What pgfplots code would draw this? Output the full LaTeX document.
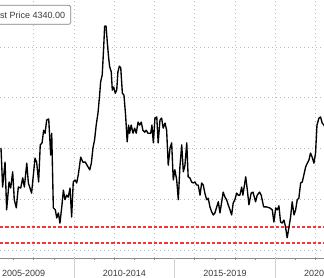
\documentclass[border=0pt]{standalone}
\usepackage{fontspec}
\setmainfont{Liberation Sans}
\usepackage{pgfplots}
\pgfplotsset{compat=1.18}
\definecolor{gridgray}{HTML}{B8B8B8}
\definecolor{axgray}{HTML}{8A8A8A}
\definecolor{sepgray}{HTML}{D0D0D0}
\definecolor{txt}{HTML}{3A3A3A}
\definecolor{refred}{rgb}{0.94,0.22,0.22}
\begin{document}
\begin{tikzpicture}
\useasboundingbox (0pt,0pt) rectangle (324pt,278pt);
\begin{axis}[
  at={(0pt,20pt)}, anchor=south west,
  width=324pt, height=258pt, scale only axis,
  xmin=2006.32, xmax=2022.42, ymin=842, ymax=5925,
  axis x line=bottom, axis y line=left,
  x axis line style={axgray, line width=0.9pt, -},
  y axis line style={draw=none, -},
  xtick={2008,2010,...,2022}, xticklabels={},
  minor xtick={2007,2009,...,2021},
  ytick={1000,2000,3000,4000,5000}, yticklabels={},
  ytick style={draw=none},
  xmajorgrids, ymajorgrids,
  grid style={gridgray, line width=0.8pt, dash pattern=on 0.8pt off 3.2pt},
  tick align=outside, major tick length=2.5pt, minor tick length=2.5pt,
  xtick style={axgray, line width=0.7pt},
  clip=true,
]
\addplot[draw=refred, line width=1.6pt, dash pattern=on 3.3pt off 2pt, mark=none] coordinates {(2006.32,1450) (2022.42,1450)};
\addplot[draw=refred, line width=1.6pt, dash pattern=on 3.3pt off 2pt, mark=none] coordinates {(2006.32,1140) (2022.42,1140)};
\addplot[color=black, line width=1.35pt, line join=round, mark=none] coordinates {
(2006.37,3010) (2006.45,2240) (2006.57,2730) (2006.65,1790) (2006.77,2340)
(2006.85,2220) (2006.95,2540) (2007.03,1990) (2007.13,1830) (2007.23,2240)
(2007.35,2220) (2007.45,2420) (2007.53,2240) (2007.65,2710) (2007.73,2320)
(2007.89,2120) (2008.06,2810) (2008.14,2730) (2008.24,2340) (2008.32,3070)
(2008.41,3110) (2008.49,3360) (2008.56,3300) (2008.64,3560) (2008.74,3580)
(2008.84,2870) (2008.89,3300) (2008.97,1830) (2009.07,1790) (2009.14,1630)
(2009.22,1730) (2009.30,1530) (2009.39,1850) (2009.47,2180) (2009.55,1990)
(2009.63,2080) (2009.71,2040) (2009.80,2220) (2009.88,1650) (2009.96,2340)
(2010.05,2380) (2010.13,2320) (2010.21,2480) (2010.33,2830) (2010.44,2730)
(2010.56,2730) (2010.69,2640) (2010.78,2580) (2010.86,2710) (2010.94,3010)
(2011.02,3170) (2011.10,3460) (2011.19,3700) (2011.27,4050) (2011.32,4310)
(2011.40,4450) (2011.47,4980) (2011.52,5410) (2011.59,5410) (2011.65,5100)
(2011.72,4780) (2011.77,4610) (2011.85,4510) (2011.90,4150) (2011.97,4210)
(2012.05,4090) (2012.12,4150) (2012.18,4510) (2012.25,4620) (2012.32,4590)
(2012.40,4090) (2012.48,4050) (2012.56,3660) (2012.64,3130) (2012.71,3460)
(2012.76,3300) (2012.84,3460) (2012.93,3300) (2013.01,3400) (2013.09,3300)
(2013.18,3520) (2013.26,3460) (2013.34,3520) (2013.42,3360) (2013.51,3320)
(2013.59,3360) (2013.67,3300) (2013.81,3300) (2013.87,3460) (2013.94,3110)
(2014.02,3600) (2014.11,3620) (2014.18,3110) (2014.27,3560) (2014.35,3600)
(2014.43,3400) (2014.52,3500) (2014.60,3360) (2014.68,2670) (2014.77,3010)
(2014.85,3110) (2014.93,2380) (2015.01,2580) (2015.10,2380) (2015.18,1990)
(2015.26,2640) (2015.35,3070) (2015.43,2540) (2015.51,2670) (2015.60,3110)
(2015.67,2440) (2015.76,2420) (2015.84,2340) (2015.92,2320) (2016.01,2340)
(2016.09,2280) (2016.17,2280) (2016.26,2080) (2016.34,2320) (2016.42,2280)
(2016.50,2120) (2016.59,1990) (2016.67,2020) (2016.75,1850) (2016.84,1750)
(2016.92,1690) (2017.00,1730) (2017.09,1850) (2017.17,1950) (2017.25,1730)
(2017.33,1930) (2017.41,2140) (2017.50,2040) (2017.58,1990) (2017.66,1890)
(2017.75,1790) (2017.83,1690) (2017.91,1930) (2017.99,1990) (2018.08,2120)
(2018.16,2080) (2018.24,2080) (2018.33,2240) (2018.39,2080) (2018.53,2440)
(2018.61,2180) (2018.69,1890) (2018.80,2120) (2018.89,2140) (2019.02,1950)
(2019.10,2080) (2019.22,2140) (2019.30,2080) (2019.42,1850) (2019.55,1850)
(2019.72,1830) (2019.85,1790) (2019.93,1550) (2020.02,1830) (2020.10,1790)
(2020.18,1870) (2020.26,1550) (2020.34,1530) (2020.43,1590) (2020.51,1450)
(2020.59,1240) (2020.68,1450) (2020.76,1650) (2020.84,1950) (2020.93,1690)
(2021.01,1790) (2021.09,1990) (2021.17,2020) (2021.26,2320) (2021.34,2340)
(2021.42,2480) (2021.51,2640) (2021.59,2710) (2021.67,2770) (2021.75,2910)
(2021.83,2830) (2021.92,2710) (2022.00,2910) (2022.07,3460) (2022.17,3600)
(2022.25,3620) (2022.33,3500) (2022.42,3460) (2022.56,3320)
};
\end{axis}
\begin{scope}
\clip (0pt,0pt) rectangle (324pt,278pt);
\draw[sepgray, line width=1pt] (74pt,0pt) -- (74pt,20pt);
\draw[sepgray, line width=1pt] (174.7pt,0pt) -- (174.7pt,20pt);
\draw[sepgray, line width=1pt] (275.3pt,0pt) -- (275.3pt,20pt);
\node[anchor=center, font=\fontsize{9}{10}\selectfont, text=txt, inner sep=0pt] at (23.7pt,4.5pt) {2005-2009};
\node[anchor=center, font=\fontsize{9}{10}\selectfont, text=txt, inner sep=0pt] at (124.35pt,4.5pt) {2010-2014};
\node[anchor=center, font=\fontsize{9}{10}\selectfont, text=txt, inner sep=0pt] at (225pt,4.5pt) {2015-2019};
\node[anchor=center, font=\fontsize{9}{10}\selectfont, text=txt, inner sep=0pt] at (325.6pt,4.5pt) {2020-2024};
\node[draw=black!50, line width=0.6pt, rounded corners=1.5pt, fill=white,
      anchor=north east, minimum height=19pt, inner xsep=5.5pt, inner ysep=0pt,
      font=\fontsize{9}{10}\selectfont, text=txt] at (71pt,273pt) {Last Price 4340.00};
\end{scope}
\end{tikzpicture}
\end{document}
